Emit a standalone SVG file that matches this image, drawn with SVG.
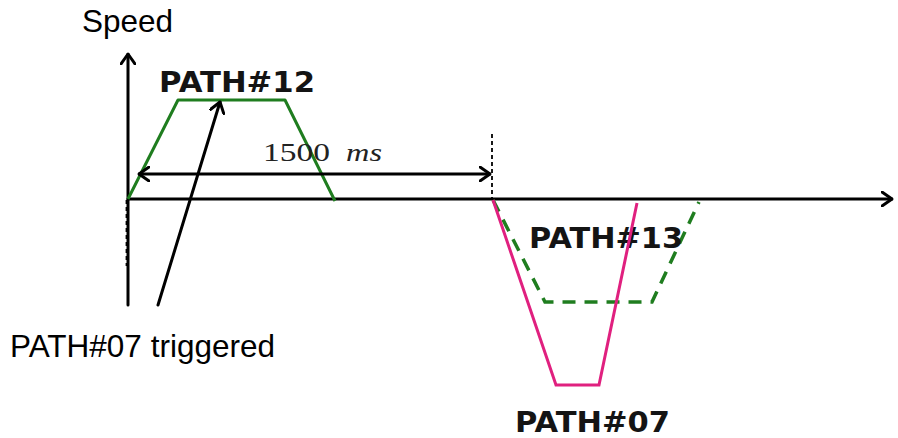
<svg xmlns="http://www.w3.org/2000/svg" width="898" height="438" viewBox="0 0 898 438">
<defs>
<style>
.ax{stroke:#000;stroke-width:3;fill:none;stroke-linecap:round;stroke-linejoin:round}
.dash{stroke:#000;stroke-width:1.8;fill:none;stroke-dasharray:4 3}
.grn{stroke:#1f7d1f;stroke-width:3;fill:none;stroke-linejoin:round}
.grnd{stroke:#1f7d1f;stroke-width:3.5;fill:none;stroke-dasharray:13 9}
.mag{stroke:#e0207f;stroke-width:3;fill:none;stroke-linejoin:miter}
.lbl{font-family:"Liberation Sans",Arial,sans-serif;font-size:31.5px;fill:#000}
.path{font-family:"DejaVu Sans","Liberation Sans",sans-serif;font-weight:bold;font-size:28px;fill:#141414}
.ser{font-family:"Liberation Serif","Times New Roman",serif;font-size:25px;fill:#222}
</style>
<marker id="ah" viewBox="0 0 12 16" refX="11" refY="8" markerWidth="12" markerHeight="16" markerUnits="userSpaceOnUse" orient="auto-start-reverse">
<path d="M1,1 L11,8 L1,15" fill="none" stroke="#000" stroke-width="3" stroke-linecap="round" stroke-linejoin="round"/>
</marker>
</defs>
<g id="axes">
<line class="ax" x1="128" y1="305" x2="128" y2="54" marker-end="url(#ah)"/>
<line class="ax" x1="128" y1="199" x2="892" y2="199" marker-end="url(#ah)"/>
<line class="dash" x1="126.5" y1="200" x2="126.5" y2="266" stroke-width="3"/>
<text class="lbl" x="82" y="32">Speed</text>
</g>
<g id="path12">
<polyline class="grn" points="128,199 178,100 285,100 335,201"/>
<text class="path" x="159" y="92" textLength="156" lengthAdjust="spacingAndGlyphs">PATH#12</text>
</g>
<g id="path13">
<polyline class="grnd" points="493,200 545,302 652,302 699,202"/>
<text class="path" x="529" y="248" textLength="154" lengthAdjust="spacingAndGlyphs">PATH#13</text>
</g>
<g id="path07">
<polyline class="mag" points="493,200 556,385 599,385 637,203"/>
<text class="path" x="515" y="432" textLength="155" lengthAdjust="spacingAndGlyphs">PATH#07</text>
</g>
<g id="trigger">
<text class="lbl" x="10" y="357">PATH#07 triggered</text>
</g>
<g id="connectors">
<line class="ax" x1="158" y1="305" x2="220" y2="102" marker-end="url(#ah)"/>
<line class="ax" x1="139" y1="174" x2="490" y2="174" marker-start="url(#ah)" marker-end="url(#ah)"/>
<line class="dash" x1="492" y1="134" x2="492" y2="200"/>
<text class="ser" x="263" y="161"><tspan textLength="67" lengthAdjust="spacingAndGlyphs">1500</tspan><tspan x="346" font-style="italic" textLength="36" lengthAdjust="spacingAndGlyphs">ms</tspan></text>
</g>
</svg>
